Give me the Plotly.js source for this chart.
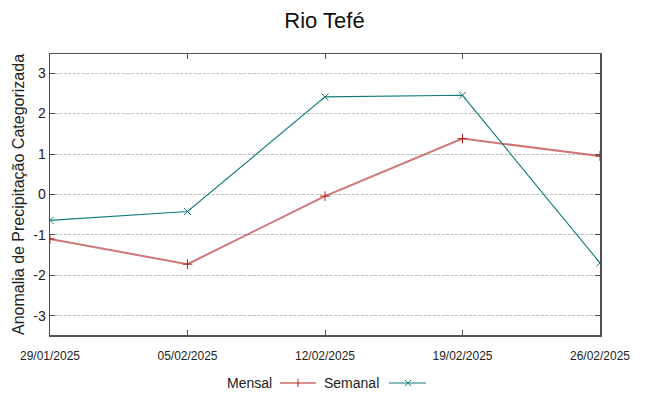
<!DOCTYPE html>
<html>
<head>
<meta charset="utf-8">
<script src="https://cdn.plot.ly/plotly-3.0.1.min.js"></script>
<style>html,body{margin:0;padding:0;background:#fff;}#chart{width:649px;height:396px;}</style>
</head>
<body>
<div id="chart"></div>
<script>
const dates = ["2025-01-29", "2025-02-05", "2025-02-12", "2025-02-19", "2025-02-26"];
const tickLabels = ["29/01/2025", "05/02/2025", "12/02/2025", "19/02/2025", "26/02/2025"];
const mensal = [-1.10, -1.72, -0.04, 1.38, 0.95];
const semanal = [-0.64, -0.42, 2.41, 2.45, -1.69];
const seriesNames = ["Mensal", "Semanal"];
const yTicks = [-3, -2, -1, 0, 1, 2, 3];
const yTickLabels = ["-3", "-2", "-1", "0", "1", "2", "3"];

const FONT = "Liberation Sans, Arial, sans-serif";
const red = "rgba(178,34,34,0.62)";
const redMk = "#b22222";
const teal = "#137a7a";

const traces = [
  {x: dates, y: mensal, name: seriesNames[0], mode: "lines+markers", type: "scatter",
   line: {color: red, width: 2},
   marker: {symbol: "cross-thin-open", size: 7, color: redMk, line: {color: redMk, width: 1}}},
  {x: dates, y: semanal, name: seriesNames[1], mode: "lines+markers", type: "scatter",
   line: {color: teal, width: 1.1},
   marker: {symbol: "x-thin-open", size: 7, color: teal, line: {color: teal, width: 1}}}
];

const axisCol = "#505050";
const layout = {
  width: 649, height: 396,
  margin: {l: 50, r: 49, t: 54, b: 61},
  paper_bgcolor: "#fff", plot_bgcolor: "#fff",
  showlegend: false,
  font: {family: FONT, color: "#222"},
  title: {text: "Rio Tefé", x: 0.5, xanchor: "center", y: 0.95, yanchor: "middle",
          font: {family: FONT, size: 22, color: "#111"}},
  xaxis: {
    type: "date", range: [dates[0], dates[dates.length - 1]],
    tickvals: dates, ticktext: tickLabels,
    ticks: "inside", ticklen: 5, tickcolor: axisCol, tickwidth: 1,
    showline: true, linecolor: axisCol, linewidth: 1.5, mirror: "ticks",
    showgrid: false, zeroline: false, ticklabelstandoff: 9,
    tickfont: {family: FONT, size: 12, color: "#222"}
  },
  yaxis: {
    range: [-3.47, 3.47], tickvals: yTicks, ticktext: yTickLabels,
    ticks: "inside", ticklen: 5, tickcolor: axisCol, tickwidth: 1,
    showline: true, linecolor: axisCol, linewidth: 1.5, mirror: "ticks",
    showgrid: true, gridcolor: "#c2c2c2", griddash: "3px,1.5px", gridwidth: 1,
    zeroline: false,
    tickfont: {family: FONT, size: 14, color: "#222"},
    title: {text: "Anomalia de Precipitação Categorizada", standoff: 4,
            font: {family: FONT, size: 16, color: "#222"}}
  },
  annotations: [
    {xref: "paper", yref: "paper", x: (274 - 50) / 550, y: -(383 - 335) / 281, xanchor: "right", yanchor: "middle",
     text: seriesNames[0], showarrow: false, font: {family: FONT, size: 14, color: "#222"}},
    {xref: "paper", yref: "paper", x: (381 - 50) / 550, y: -(383 - 335) / 281, xanchor: "right", yanchor: "middle",
     text: seriesNames[1], showarrow: false, font: {family: FONT, size: 14, color: "#222"}}
  ],
  shapes: [
    {type: "line", xref: "paper", yref: "paper", x0: (280 - 50) / 550, x1: (316 - 50) / 550,
     y0: -(383 - 335) / 281, y1: -(383 - 335) / 281, line: {color: redMk, width: 1}},
    {type: "line", xref: "paper", yref: "paper", x0: (298 - 50) / 550, x1: (298 - 50) / 550,
     y0: -(379 - 335) / 281, y1: -(387 - 335) / 281, line: {color: redMk, width: 1}},
    {type: "line", xref: "paper", yref: "paper", x0: (389 - 50) / 550, x1: (426 - 50) / 550,
     y0: -(383 - 335) / 281, y1: -(383 - 335) / 281, line: {color: teal, width: 1}},
    {type: "line", xref: "paper", yref: "paper", x0: (405 - 50) / 550, x1: (411 - 50) / 550,
     y0: -(380 - 335) / 281, y1: -(386 - 335) / 281, line: {color: teal, width: 1}},
    {type: "line", xref: "paper", yref: "paper", x0: (405 - 50) / 550, x1: (411 - 50) / 550,
     y0: -(386 - 335) / 281, y1: -(380 - 335) / 281, line: {color: teal, width: 1}}
  ]
};

Plotly.newPlot("chart", traces, layout, {displayModeBar: false, staticPlot: true});
</script>
</body>
</html>
